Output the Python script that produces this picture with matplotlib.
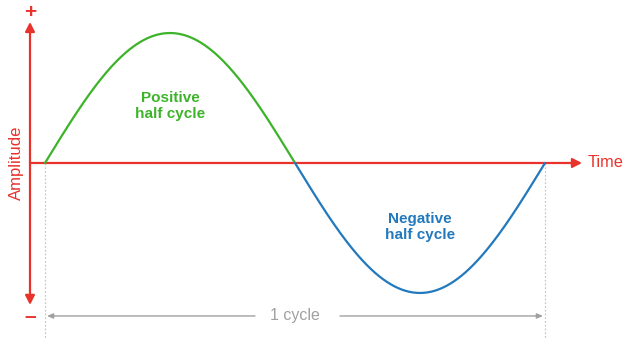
import numpy as np
import matplotlib
matplotlib.use("Agg")
import matplotlib.pyplot as plt

# one full cycle of a sine wave, split into its two halves
period = 1.0
amplitude = 1.0
half_labels = ["Positive\nhalf cycle", "Negative\nhalf cycle"]
axis_labels = ["Amplitude", "Time"]
cycle_label = "1 cycle"

RED = "#e8322b"
GREEN = "#3db32a"
BLUE = "#2279bd"
GREY = "#a0a0a0"

plt.rcParams['font.family'] = ['Liberation Sans', 'DejaVu Sans']

fig = plt.figure(figsize=(6.3, 3.46), dpi=100)
ax = fig.add_axes([0, 0, 1, 1])
ax.set_xlim(-0.09, 1.17)
ax.set_ylim(-1.408, 1.254)
ax.axis("off")

t_pos = np.linspace(0, period / 2, 200)
t_neg = np.linspace(period / 2, period, 200)
ax.plot(t_pos, amplitude * np.sin(2 * np.pi * t_pos / period), color=GREEN, lw=1.6,
        solid_capstyle="round", zorder=3)
ax.plot(t_neg, amplitude * np.sin(2 * np.pi * t_neg / period), color=BLUE, lw=1.6,
        solid_capstyle="round", zorder=3)

# red axes with arrow heads
ax.annotate("", xy=(-0.03, 1.085), xytext=(-0.03, -1.092),
            arrowprops=dict(arrowstyle="<|-|>,head_length=0.55,head_width=0.28",
                            color=RED, lw=1.6, shrinkA=0, shrinkB=0))
ax.annotate("", xy=(1.074, 0), xytext=(-0.03, 0),
            arrowprops=dict(arrowstyle="-|>,head_length=0.55,head_width=0.28",
                            color=RED, lw=1.6, shrinkA=0, shrinkB=0), zorder=2)
ax.text(-0.03, 1.16, "+", color=RED, fontsize=15, fontweight="bold",
        ha="center", va="center")
ax.text(-0.03, -1.18, "\u2013", color=RED, fontsize=15, fontweight="bold",
        ha="center", va="center")
ax.text(-0.058, 0, axis_labels[0], color=RED, fontsize=12, rotation=90,
        ha="center", va="center")
ax.text(1.086, 0, axis_labels[1], color=RED, fontsize=11.8, ha="left", va="center")

# half-cycle labels
ax.text(period / 4, 0.44, half_labels[0], color=GREEN, fontsize=11,
        fontweight="bold", ha="center", va="center", linespacing=1.2)
ax.text(3 * period / 4, -0.49, half_labels[1], color=BLUE, fontsize=11,
        fontweight="bold", ha="center", va="center", linespacing=1.2)

# dotted markers at start and end of the cycle
for t in (0, period):
    ax.plot([t, t], [0, -1.346], color="#c8c8c8", lw=0.9, ls=(0, (1.5, 1.5)), zorder=1)

# cycle span
ax.annotate("", xy=(0.004, -1.177), xytext=(0.42, -1.177),
            arrowprops=dict(arrowstyle="-|>,head_length=0.35,head_width=0.15",
                            color=GREY, lw=1.0, shrinkA=0, shrinkB=0))
ax.annotate("", xy=(period - 0.004, -1.177), xytext=(0.59, -1.177),
            arrowprops=dict(arrowstyle="-|>,head_length=0.35,head_width=0.15",
                            color=GREY, lw=1.0, shrinkA=0, shrinkB=0))
ax.text(period / 2, -1.177, cycle_label, color=GREY, fontsize=11.5,
        ha="center", va="center")

fig.savefig("out.png", dpi=100)
